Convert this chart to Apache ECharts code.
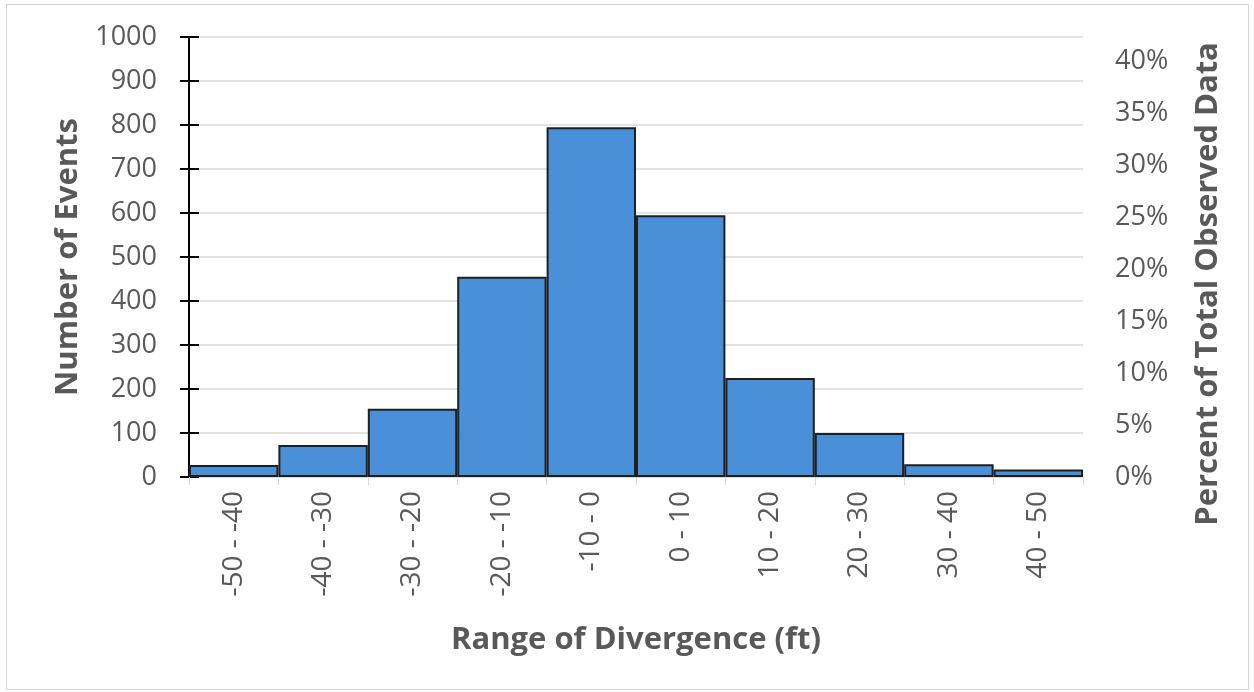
<!DOCTYPE html>
<html>
<head>
<meta charset="utf-8">
<script src="https://cdn.jsdelivr.net/npm/echarts@6/dist/echarts.min.js"></script>
<style>
  html, body { margin: 0; padding: 0; background: #fff; }
  #frame { position: absolute; left: 6px; top: 4px; width: 1243px; height: 686px; border: 1px solid #d6d6d6; box-sizing: border-box; }
  #chart { position: absolute; left: 0; top: 0; width: 1254px; height: 692px; }
</style>
</head>
<body>
<div id="frame"></div>
<div id="chart"></div>
<script>
// Data
const categories = ['-50 - -40', '-40 - -30', '-30 - -20', '-20 - -10', '-10 - 0', '0 - 10', '10 - 20', '20 - 30', '30 - 40', '40 - 50'];
const eventCounts = [27, 73, 155, 455, 795, 595, 225, 100, 29, 17];
const leftTicks = { min: 0, max: 1000, interval: 100 };
const rightTicks = { min: 0, max: 0.423, interval: 0.05 };

const chart = echarts.init(document.getElementById('chart'), null, { renderer: 'canvas' });
const font = "'Open Sans', 'Liberation Sans', sans-serif";
const labelColor = '#595959';

chart.setOption({
  animation: false,
  grid: { left: 189, right: 171, top: 37, bottom: 215, containLabel: false },
  xAxis: {
    type: 'category',
    data: categories,
    name: 'Range of Divergence (ft)',
    nameLocation: 'middle',
    nameGap: 148,
    nameTextStyle: { fontFamily: font, fontSize: 31, fontWeight: 'bold', color: labelColor },
    axisLine: { show: true, lineStyle: { color: '#d9d9d9', width: 1 } },
    axisTick: { show: true, alignWithLabel: false, length: 8, lineStyle: { color: '#d9d9d9' } },
    axisLabel: { rotate: 90, margin: 14, fontFamily: font, fontSize: 28, color: labelColor, interval: 0 }
  },
  yAxis: [
    {
      type: 'value',
      position: 'left',
      min: leftTicks.min, max: leftTicks.max, interval: leftTicks.interval,
      name: 'Number of Events',
      nameLocation: 'middle',
      nameGap: 105,
      nameRotate: 90,
      nameTextStyle: { fontFamily: font, fontSize: 31, fontWeight: 'bold', color: labelColor },
      axisLine: { show: true, lineStyle: { color: '#000', width: 2 } },
      axisTick: { show: true, inside: false, length: 9, lineStyle: { color: '#000', width: 2 } },
      axisLabel: { margin: 32, fontFamily: font, fontSize: 27, color: labelColor, formatter: v => String(v) },
      splitLine: { show: true, lineStyle: { color: '#d9d9d9', width: 1.5 } }
    },
    {
      type: 'value',
      position: 'left',
      min: leftTicks.min, max: leftTicks.max, interval: leftTicks.interval,
      axisLine: { show: false },
      axisTick: { show: true, inside: true, length: 10, lineStyle: { color: '#000', width: 2 } },
      axisLabel: { show: false },
      splitLine: { show: false }
    },
    {
      type: 'value',
      position: 'right',
      min: rightTicks.min, max: rightTicks.max, interval: rightTicks.interval,
      name: 'Percent of Total Observed Data',
      nameLocation: 'middle',
      nameGap: 110,
      nameRotate: 90,
      nameTextStyle: { fontFamily: font, fontSize: 31, fontWeight: 'bold', color: labelColor, padding: [0, 54, 0, 0] },
      axisLine: { show: false },
      axisTick: { show: false },
      axisLabel: {
        margin: 32, fontFamily: font, fontSize: 27, color: labelColor, showMaxLabel: false,
        formatter: v => Math.round(v * 100) + '%'
      },
      splitLine: { show: false }
    }
  ],
  series: [{
    type: 'bar',
    yAxisIndex: 0,
    data: eventCounts,
    barCategoryGap: '0%',
    itemStyle: { color: '#4a90d9', borderColor: '#1f1f1f', borderWidth: 2 }
  }]
});
</script>
</body>
</html>
